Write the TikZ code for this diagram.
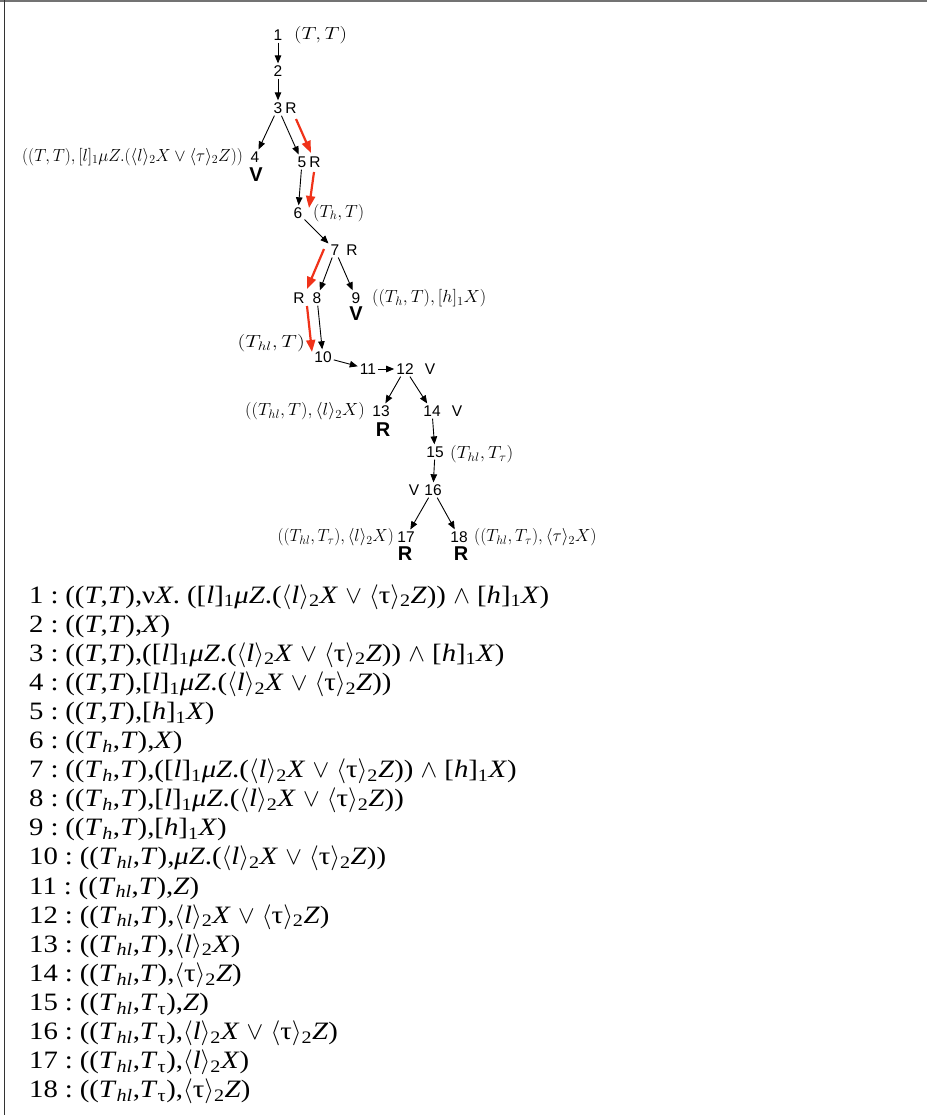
\RequirePackage{fix-cm}
\documentclass[tikz,border=0pt]{standalone}
\usepackage{fontspec}
\usetikzlibrary{arrows.meta}
\newfontfamily\hv{Liberation Sans}
\newfontfamily\tms[FakeStretch=1.15]{Liberation Serif}
\definecolor{rlc}{RGB}{240,50,25}
\newcommand\mi[1]{\textit{#1}}
\newcommand\bxl{[\mi{l}]\textsubscript{1}}
\newcommand\bxh{[\mi{h}]\textsubscript{1}}
\newcommand\dell{$\langle$\mi{l}$\rangle$\textsubscript{2}}
\newcommand\dtau{$\langle$τ$\rangle$\textsubscript{2}}
\newcommand\OR{\ $\vee$\ }
\newcommand\AND{\ $\wedge$\ }
\newcommand\TT{(\mi{T},\mi{T})}
\newcommand\ThT{(\mi{T}\textsubscript{\mi{h}},\mi{T})}
\newcommand\ThlT{(\mi{T}\textsubscript{\mi{hl}},\mi{T})}
\newcommand\ThlTt{(\mi{T}\textsubscript{\mi{hl}},\mi{T}\textsubscript{τ})}
\newcommand\muZ{\mi{μZ}.(\dell\mi{X}\OR\dtau\mi{Z})}
\newcommand\col{\;:\;}
\newcommand\sx[2]{\scalebox{#1}[1]{#2}}
\tikzset{x=1pt,y=-1pt,
 num/.style={font=\hv\fontsize{15.5}{18}\selectfont, inner sep=2pt},
 tag/.style={font=\hv\fontsize{15.5}{18}\selectfont, inner sep=0pt},
 big/.style={font=\hv\bfseries\fontsize{20}{22}\selectfont, inner sep=0pt},
 lab/.style={font=\fontsize{17.5}{20}\selectfont, inner sep=0pt},
 arr/.style={-{Triangle[length=8pt,width=6.5pt]}, line width=0.9pt},
 redarr/.style={-{Triangle[length=12pt,width=9pt]}, line width=2.2pt, draw=rlc},
 listline/.style={font=\tms\fontsize{25}{29}\selectfont, anchor=base west, inner sep=0pt}
}
\begin{document}
\begin{tikzpicture}
\path[use as bounding box] (0,0) rectangle (927,1115);
\draw[black!55, line width=1.5pt] (0,1) -- (927,1);
\draw[black!80, line width=1.5pt] (4.5,0) -- (4.5,1115);

% tree numbers
\node[num] (n1) at (278,35) {1};
\node[num] (n2) at (278,71) {2};
\node[num] (n3) at (278,108) {3};
\node[num] (n4) at (255,157) {4};
\node[num] (n5) at (302,162) {5};
\node[num] (n6) at (298,213) {6};
\node[num] (n7) at (335,250) {7};
\node[num] (n8) at (317,298) {8};
\node[num] (n9) at (356,298) {9};
\node[num] (n10) at (323,357) {10};
\node[num] (n11) at (368,369) {11};
\node[num] (n12) at (405,369) {12};
\node[num] (n13) at (381,411) {13};
\node[num] (n14) at (432,411) {14};
\node[num] (n15) at (435,452) {15};
\node[num] (n16) at (433,490) {16};
\node[num] (n17) at (406,537) {17};
\node[num] (n18) at (459,537) {18};

% R / V tags
\node[tag] (t3) at (291,108) {R};
\node[tag] (t5) at (315,162) {R};
\node[tag] (t7) at (352,250) {R};
\node[tag] (t8) at (299,298) {R};
\node[tag] (t12) at (430,369) {V};
\node[tag] (t14) at (457,411) {V};
\node[tag] (t16) at (414,490) {V};
\node[big] (b4) at (256,175) {V};
\node[big] (b9) at (356,314) {V};
\node[big] (b13) at (383,430) {R};
\node[big] (b17) at (405,554) {R};
\node[big] (b18) at (461,554) {R};

% math labels
\node[lab, anchor=west] (l1) at (294,35) {\sx{1.2}{$(T,T)$}};
\node[lab, anchor=east] (l4) at (243,157) {\sx{0.97}{$((T,T),[l]_1\mu Z.(\langle l\rangle_2X\vee\langle\tau\rangle_2Z))$}};
\node[lab, anchor=west] (l6) at (313,213) {\sx{1.02}{$(T_h,T)$}};
\node[lab, anchor=west] (l9) at (372,298) {\sx{1.03}{$((T_h,T),[h]_1X)$}};
\node[lab, anchor=east] (l10) at (305,343) {\sx{1.25}{$(T_{hl},T)$}};
\node[lab, anchor=east] (l13) at (365,411) {\sx{1.04}{$((T_{hl},T),\langle l\rangle_2X)$}};
\node[lab, anchor=west] (l15) at (450,454) {\sx{1.08}{$(T_{hl},T_\tau)$}};
\node[lab, anchor=east] (l17) at (394,537) {\sx{0.97}{$((T_{hl},T_\tau),\langle l\rangle_2X)$}};
\node[lab, anchor=west] (l18) at (474,537) {\sx{0.99}{$((T_{hl},T_\tau),\langle\tau\rangle_2X)$}};

% black arrows
\draw[arr] (n1) -- (n2);
\draw[arr] (n2) -- (n3);
\draw[arr] (n3) -- (n4);
\draw[arr] (n3) -- (n5);
\draw[arr] (n5) -- (n6);
\draw[arr] (n6) -- (n7);
\draw[arr] (n7) -- (n8);
\draw[arr] (n7) -- (n9);
\draw[arr] (n8) -- (n10);
\draw[arr] (n10) -- (n11);
\draw[arr] (n11) -- (n12);
\draw[arr] (n12) -- (n13);
\draw[arr] (n12) -- (n14);
\draw[arr] (n14) -- (n15);
\draw[arr] (n15) -- (n16);
\draw[arr] (n16) -- (n17);
\draw[arr] (n16) -- (n18);

% red arrows
\coordinate (ra) at (296,119);
\coordinate (rb) at (311,153);
\coordinate (rc) at (314,172);
\coordinate (rd) at (309,208);
\coordinate (re) at (324,249);
\coordinate (rf) at (307,289);
\coordinate (rg) at (307,306);
\coordinate (rh) at (312,352);
\draw[redarr] (ra) -- (rb);
\draw[redarr] (rc) -- (rd);
\draw[redarr] (re) -- (rf);
\draw[redarr] (rg) -- (rh);

% list
\node[listline] (s1) at (29,603) {1\col(\TT,ν\mi{X}.\ (\bxl\muZ)\AND\bxh\mi{X})};
\node[listline] (s2) at (29,632.1) {2\col(\TT,\mi{X})};
\node[listline] (s3) at (29,661.2) {3\col(\TT,(\bxl\muZ)\AND\bxh\mi{X})};
\node[listline] (s4) at (29,690.3) {4\col(\TT,\bxl\muZ)};
\node[listline] (s5) at (29,719.4) {5\col(\TT,\bxh\mi{X})};
\node[listline] (s6) at (29,748.5) {6\col(\ThT,\mi{X})};
\node[listline] (s7) at (29,777.6) {7\col(\ThT,(\bxl\muZ)\AND\bxh\mi{X})};
\node[listline] (s8) at (29,806.7) {8\col(\ThT,\bxl\muZ)};
\node[listline] (s9) at (29,835.8) {9\col(\ThT,\bxh\mi{X})};
\node[listline] (s10) at (29,864.9) {10\col(\ThlT,\muZ)};
\node[listline] (s11) at (29,894) {11\col(\ThlT,\mi{Z})};
\node[listline] (s12) at (29,923.1) {12\col(\ThlT,\dell\mi{X}\OR\dtau\mi{Z})};
\node[listline] (s13) at (29,952.2) {13\col(\ThlT,\dell\mi{X})};
\node[listline] (s14) at (29,981.3) {14\col(\ThlT,\dtau\mi{Z})};
\node[listline] (s15) at (29,1010.4) {15\col(\ThlTt,\mi{Z})};
\node[listline] (s16) at (29,1039.5) {16\col(\ThlTt,\dell\mi{X}\OR\dtau\mi{Z})};
\node[listline] (s17) at (29,1068.6) {17\col(\ThlTt,\dell\mi{X})};
\node[listline] (s18) at (29,1097.7) {18\col(\ThlTt,\dtau\mi{Z})};
\end{tikzpicture}
\end{document}
